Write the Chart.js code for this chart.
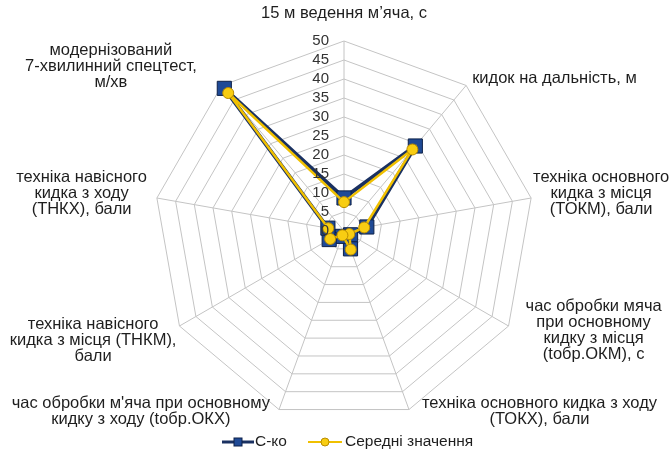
<!DOCTYPE html>
<html><head><meta charset="utf-8">
<script src="https://cdn.jsdelivr.net/npm/chart.js@4.4.0/dist/chart.umd.min.js"></script>
<style>html,body{margin:0;padding:0;background:#fff;}#wrap{width:671px;height:464px;}</style>
</head><body><div id="wrap"><canvas id="c" width="671" height="464"></canvas></div>
<script>
const categories = [
  ["15 м ведення м’яча, с"],
  ["кидок на дальність, м"],
  ["техніка основного", "кидка з місця", "(ТОКМ), бали"],
  ["час обробки мяча", "при основному", "кидку з місця", "(tобр.ОКМ), с"],
  ["техніка основного кидка з ходу", "(ТОКХ), бали"],
  ["час обробки м'яча при основному", "кидку з ходу (tобр.ОКХ)"],
  ["техніка навісного", "кидка з місця (ТНКМ),", "бали"],
  ["техніка навісного", "кидка з ходу", "(ТНКХ), бали"],
  ["модернізований", "7-хвилинний спецтест,", "м/хв"]
];
const seriesNames = ["С-ко", "Середні значення"];
const skoValues = [8.7, 29.2, 6.1, 2, 5, 1.5, 4.5, 4.3, 49];
const meanValues = [7.6, 28, 5.4, 1.6, 5.2, 1.2, 4.2, 4.2, 47.4];
const tickValues = [0, 5, 10, 15, 20, 25, 30, 35, 40, 45, 50];

const FONT = 'Arial, "Liberation Sans", sans-serif';
const NAVY_LINE = '#1a3161', NAVY_FILL = '#1f4a96', NAVY_EDGE = '#0e2148';
const YEL_LINE = '#f0c000', YEL_FILL = '#f8cd12', YEL_EDGE = '#b98c00';

// label block placement relative to the outer vertex of each axis
const labelPlace = [
  {a:'c', dx:0,   dy:-28},
  {a:'l', dx:6,   dy:-7},
  {a:'l', dx:2,   dy:-5},
  {a:'l', dx:17,  dy:4},
  {a:'l', dx:13,  dy:2},
  {a:'r', dx:-9,  dy:2},
  {a:'r', dx:-3,  dy:14},
  {a:'r', dx:-10, dy:-5},
  {a:'r', dx:-25, dy:-19}
];

const textPlugin = {
  id: 'texts',
  afterDraw(chart) {
    const s = chart.scales.r, ctx = chart.ctx;
    ctx.save();
    ctx.textBaseline = 'middle';
    // tick labels
    ctx.font = '15px ' + FONT;
    ctx.fillStyle = '#333333';
    ctx.textAlign = 'right';
    tickValues.forEach(v => {
      const d = s.getDistanceFromCenterForValue(v);
      ctx.fillText(String(v), s.xCenter - 15, s.yCenter - d);
    });
    // point labels
    ctx.fillStyle = '#1e1e1e';
    ctx.font = '16.5px ' + FONT;
    const lh = 16;
    categories.forEach((lines, i) => {
      const p = s.getPointPosition(i, s.drawingArea);
      const o = labelPlace[i];
      const w = Math.max(...lines.map(l => ctx.measureText(l).width));
      let cx = p.x + o.dx;
      if (o.a === 'l') cx += w / 2;
      else if (o.a === 'r') cx -= w / 2;
      const cy = p.y + o.dy;
      ctx.textAlign = 'center';
      lines.forEach((l, k) => ctx.fillText(l, cx, cy + (k - (lines.length - 1) / 2) * lh));
    });
    // legend
    const ly = 442;
    ctx.lineWidth = 3;
    ctx.strokeStyle = NAVY_LINE;
    ctx.beginPath(); ctx.moveTo(222, ly); ctx.lineTo(254, ly); ctx.stroke();
    ctx.fillStyle = NAVY_FILL; ctx.strokeStyle = NAVY_EDGE; ctx.lineWidth = 1;
    ctx.fillRect(234, ly - 4, 8, 8); ctx.strokeRect(234, ly - 4, 8, 8);
    ctx.lineWidth = 2;
    ctx.strokeStyle = YEL_LINE;
    ctx.beginPath(); ctx.moveTo(308, ly); ctx.lineTo(342, ly); ctx.stroke();
    ctx.fillStyle = YEL_FILL; ctx.strokeStyle = YEL_EDGE; ctx.lineWidth = 1;
    ctx.beginPath(); ctx.arc(325, ly, 4, 0, Math.PI * 2); ctx.fill(); ctx.stroke();
    ctx.fillStyle = '#1e1e1e';
    ctx.font = '15.5px ' + FONT;
    ctx.textAlign = 'left';
    ctx.fillText(seriesNames[0], 255, ly);
    ctx.fillText(seriesNames[1], 345, ly);
    ctx.restore();
  }
};

new Chart(document.getElementById('c'), {
  type: 'radar',
  data: {
    labels: categories,
    datasets: [
      {
        label: seriesNames[0], data: skoValues, order: 1,
        borderColor: NAVY_LINE, borderWidth: 4, fill: false,
        pointStyle: 'rect', pointRadius: 10, pointHoverRadius: 10,
        pointBackgroundColor: NAVY_FILL, pointBorderColor: NAVY_EDGE, pointBorderWidth: 1
      },
      {
        label: seriesNames[1], data: meanValues, order: 0,
        borderColor: YEL_LINE, borderWidth: 2.5, fill: false,
        pointStyle: 'circle', pointRadius: 5.5, pointHoverRadius: 5.5,
        pointBackgroundColor: YEL_FILL, pointBorderColor: YEL_EDGE, pointBorderWidth: 1
      }
    ]
  },
  options: {
    responsive: false, animation: false, devicePixelRatio: 1,
    layout: { padding: { top: 41, bottom: 43, left: 100, right: 83 } },
    plugins: { legend: { display: false }, tooltip: { enabled: false } },
    scales: {
      r: {
        min: 0, max: 50,
        ticks: { stepSize: 5, display: false },
        pointLabels: { display: false },
        grid: { color: '#c4c4c4', lineWidth: 1, circular: false },
        angleLines: { color: '#c4c4c4', lineWidth: 1 }
      }
    }
  },
  plugins: [textPlugin]
});
</script></body></html>
